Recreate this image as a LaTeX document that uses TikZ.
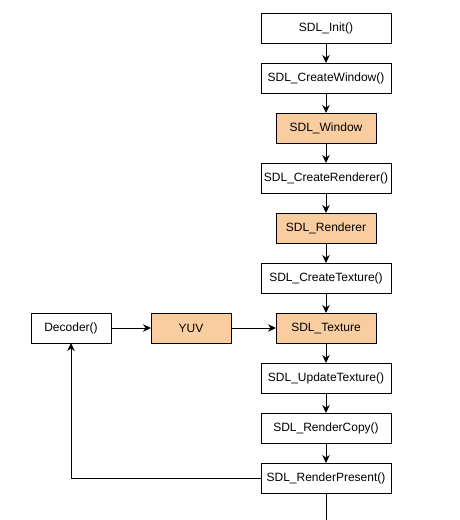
\documentclass[tikz,border=0pt]{standalone}
\usepackage{fontspec}
\setmainfont{Liberation Sans}
\usepackage{xcolor}
\usepackage{tikz}
\usetikzlibrary{positioning, arrows.meta}

\definecolor{boxorange}{RGB}{250,205,160}

\begin{document}
\begin{tikzpicture}[x=1pt, y=-1pt, node distance=20pt,
  every node/.style={font=\fontsize{12}{14}\selectfont},
  func/.style={draw, line width=1pt, fill=white, minimum width=130pt, minimum height=30pt, inner sep=0pt, outer sep=0pt},
  data/.style={draw, line width=1pt, fill=boxorange, minimum width=100pt, minimum height=30pt, inner sep=0pt, outer sep=0pt},
  flow/.style={-{Stealth[length=8pt, width=7.5pt]}, line width=1pt}]
\useasboundingbox (0,0) rectangle (460,520);
% Main SDL call chain
\node[func] (init) at (326,28) {SDL\_Init()};
\node[func, below=of init] (createwin) {SDL\_CreateWindow()};
\node[data, below=of createwin] (window) {SDL\_Window};
\node[func, below=of window] (createren) {SDL\_CreateRenderer()};
\node[data, below=of createren] (renderer) {SDL\_Renderer};
\node[func, below=of renderer] (createtex) {SDL\_CreateTexture()};
\node[data, below=of createtex] (texture) {SDL\_Texture};
\node[func, below=of texture] (update) {SDL\_UpdateTexture()};
\node[func, below=of update] (copy) {SDL\_RenderCopy()};
\node[func, below=of copy] (present) {SDL\_RenderPresent()};
% Decoder side
\node[func, minimum width=80pt] (decoder) at (71,328) {Decoder()};
\node[data, minimum width=80pt] (yuv) at (191,328) {YUV};
\coordinate (bottom) at (326,520);
% Connectors
\foreach \a/\b in {init/createwin, createwin/window, window/createren, createren/renderer,
  renderer/createtex, createtex/texture, texture/update, update/copy, copy/present} {
  \draw[flow] (\a) -- (\b);
}
\draw[flow] (decoder) -- (yuv);
\draw[flow] (yuv) -- (texture);
\draw[flow] (present.west) -| (decoder.south);
\draw[line width=1pt] (present) -- (bottom);
\end{tikzpicture}
\end{document}
